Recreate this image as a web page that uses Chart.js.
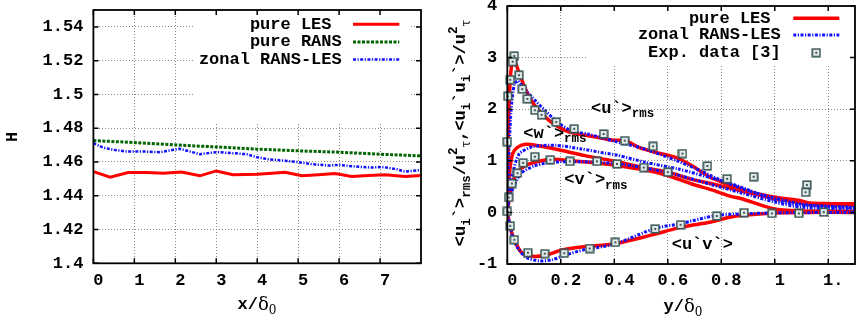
<!DOCTYPE html>
<html>
<head>
<meta charset="utf-8">
<script src="https://cdn.jsdelivr.net/npm/chart.js@4.4.0/dist/chart.umd.min.js"></script>
<style>
  html, body { margin: 0; padding: 0; background: #fff; }
  .panel { position: absolute; top: 0; }
</style>
</head>
<body>
<div class="panel" style="left:0"><canvas id="left" width="430" height="322"></canvas></div>
<div class="panel" style="left:430px"><canvas id="right" width="431" height="322"></canvas></div>
<script>
// ---- left panel: shape factor H vs x/delta0 ----
const hLesX = [0, 0.41, 0.85, 1.3, 1.71, 2.15, 2.6, 3.0, 3.41, 4.0, 4.36, 4.68, 5.09, 5.5, 5.9, 6.31, 6.71, 7.12, 7.61, 8.0];
const hLesY = [1.4543, 1.451, 1.4537, 1.4537, 1.4533, 1.454, 1.4518, 1.4547, 1.4524, 1.4528, 1.4533, 1.4539, 1.4518, 1.4524, 1.4532, 1.4514, 1.452, 1.4524, 1.4514, 1.452];
const hRansX = [0, 1, 2, 3, 4, 5, 6, 7, 8];
const hRansY = [1.4727, 1.4715, 1.4701, 1.4689, 1.4676, 1.4666, 1.4658, 1.4646, 1.4636];
const hZonalX = [0, 0.24, 0.49, 0.81, 1.22, 1.63, 1.95, 2.11, 2.36, 2.6, 2.85, 3.05, 3.41, 3.74, 4.0, 4.27, 4.68, 5.0, 5.34, 5.74, 6.0, 6.39, 6.8, 7.04, 7.37, 7.61, 8.0];
const hZonalY = [1.4711, 1.4685, 1.4672, 1.4662, 1.4662, 1.4658, 1.4672, 1.4678, 1.4662, 1.4646, 1.4654, 1.4658, 1.4652, 1.4646, 1.4628, 1.4616, 1.4607, 1.4599, 1.4587, 1.4579, 1.4583, 1.4573, 1.4567, 1.4571, 1.4559, 1.4543, 1.4553];
const hXTicks = [0, 1, 2, 3, 4, 5, 6, 7];
const hYTicks = [1.4, 1.42, 1.44, 1.46, 1.48, 1.5, 1.52, 1.54];
const hYLabels = ['1.4', '1.42', '1.44', '1.46', '1.48', '1.5', '1.52', '1.54'];

// ---- right panel: Reynolds stresses vs y/delta0 ----
const lesUX = [0, 0.004, 0.01, 0.018, 0.026, 0.044, 0.063, 0.087, 0.118, 0.155, 0.19, 0.235, 0.276, 0.33, 0.394, 0.443, 0.492, 0.553, 0.627, 0.689, 0.762, 0.811, 0.873, 0.909, 0.995, 1.094, 1.13, 1.2, 1.3];
const lesUY = [0, 1.5, 2.5, 2.9, 2.95, 2.71, 2.45, 2.19, 1.97, 1.79, 1.66, 1.55, 1.51, 1.46, 1.40, 1.39, 1.26, 1.165, 1.07, 0.91, 0.67, 0.57, 0.46, 0.39, 0.30, 0.23, 0.18, 0.17, 0.17];
const lesWX = [0, 0.004, 0.01, 0.02, 0.038, 0.069, 0.118, 0.204, 0.29, 0.394, 0.517, 0.603, 0.69, 0.762, 0.873, 0.995, 1.09, 1.13, 1.3];
const lesWY = [0, 0.5, 0.85, 1.14, 1.26, 1.32, 1.29, 1.20, 1.10, 1.00, 0.86, 0.78, 0.64, 0.56, 0.42, 0.27, 0.19, 0.15, 0.14];
const lesVX = [0, 0.007, 0.02, 0.038, 0.069, 0.118, 0.167, 0.24, 0.326, 0.394, 0.517, 0.603, 0.69, 0.762, 0.836, 0.873, 0.995, 1.09, 1.3];
const lesVY = [0, 0.24, 0.56, 0.78, 0.91, 0.99, 1.03, 1.0, 0.96, 0.92, 0.82, 0.71, 0.55, 0.44, 0.31, 0.27, 0.07, 0.03, 0.02];
const lesUVX = [0, 0.014, 0.032, 0.056, 0.093, 0.142, 0.204, 0.277, 0.363, 0.412, 0.5, 0.553, 0.64, 0.7, 0.762, 0.836, 0.873, 0.995, 1.1, 1.3];
const lesUVY = [0, -0.35, -0.60, -0.79, -0.85, -0.83, -0.73, -0.67, -0.63, -0.60, -0.49, -0.42, -0.30, -0.24, -0.185, -0.09, -0.06, -0.01, 0, 0];

const zonUX = [0, 0.005, 0.014, 0.026, 0.038, 0.056, 0.093, 0.142, 0.19, 0.24, 0.30, 0.4, 0.5, 0.6, 0.7, 0.8, 0.9, 1.0, 1.1, 1.2, 1.3];
const zonUY = [0, 1.0, 1.97, 2.48, 2.55, 2.45, 2.23, 1.97, 1.74, 1.58, 1.52, 1.38, 1.25, 1.07, 0.86, 0.62, 0.42, 0.28, 0.16, 0.11, 0.09];
const zonWX = [0, 0.005, 0.02, 0.044, 0.093, 0.18, 0.277, 0.363, 0.41, 0.517, 0.64, 0.762, 0.836, 0.909, 0.995, 1.09, 1.3];
const zonWY = [0, 0.35, 0.75, 1.13, 1.27, 1.30, 1.23, 1.15, 1.11, 0.97, 0.84, 0.67, 0.56, 0.42, 0.25, 0.15, 0.10];
const zonVX = [0, 0.005, 0.02, 0.05, 0.1, 0.15, 0.2, 0.3, 0.4, 0.517, 0.64, 0.762, 0.873, 1.0, 1.1, 1.3];
const zonVY = [0, 0.2, 0.45, 0.75, 0.90, 0.96, 0.98, 0.98, 0.95, 0.86, 0.72, 0.54, 0.38, 0.2, 0.1, 0.06];
const zonUVX = [0, 0.02, 0.04, 0.07, 0.118, 0.167, 0.215, 0.29, 0.36, 0.41, 0.553, 0.645, 0.78, 0.873, 1.0, 1.3];
const zonUVY = [0, -0.48, -0.70, -0.87, -0.94, -0.92, -0.83, -0.72, -0.66, -0.60, -0.31, -0.22, -0.06, -0.03, -0.01, 0];

const expX = [0.026, 0.020, 0.011, 0.002, 0.0, 0.044, 0.056, 0.075, 0.103, 0.128, 0.183, 0.250, 0.360, 0.439, 0.545, 0.655, 0.748, 0.822, 0.921, 1.120, 1.115,
              0.103, 0.161, 0.234, 0.335, 0.41, 0.51, 0.60, 0.059, 0.038, 0.017, 0.005, 0.0,
              0.011, 0.026, 0.077, 0.140, 0.213, 0.308, 0.404, 0.553, 0.648, 0.783, 0.885, 0.989, 1.090, 1.183];
const expY = [3.03, 2.92, 2.57, 2.25, 1.37, 2.66, 2.39, 2.20, 1.98, 1.89, 1.75, 1.62, 1.52, 1.39, 1.28, 1.14, 0.90, 0.65, 0.69, 0.53, 0.39,
              1.08, 1.02, 0.99, 0.99, 0.94, 0.87, 0.78, 0.96, 0.76, 0.56, 0.29, 0.02,
              -0.26, -0.53, -0.78, -0.80, -0.79, -0.70, -0.58, -0.32, -0.24, -0.07, -0.006, -0.02, -0.02, 0.006];
const rXTicks = [0, 0.2, 0.4, 0.6, 0.8, 1, 1.2];
const rXLabels = ['0', '0.2', '0.4', '0.6', '0.8', '1', '1.'];
const rYTicks = [-1, 0, 1, 2, 3, 4];

const MONO = '"Liberation Mono", "DejaVu Sans Mono", monospace';
const SERIF = '"DejaVu Serif", "Liberation Serif", serif';
const FONTS = {
  n: 'bold 17px ' + MONO,
  s: 'bold 12.5px ' + MONO,
  p: 'bold 12.5px ' + MONO,
  g: '18px ' + SERIF,
  gs: '12px ' + SERIF
};
const SHIFT = { n: 0, s: 6, p: -7, g: 0, gs: 6 };

function pts(xs, ys) {
  return xs.map((x, i) => ({ x: x, y: ys[i] }));
}

function squareMark() {
  const c = document.createElement('canvas');
  c.width = 10; c.height = 10;
  const g = c.getContext('2d');
  g.fillStyle = '#e4eaea';
  g.fillRect(1, 1, 8, 8);
  g.strokeStyle = '#3b5858';
  g.lineWidth = 1.6;
  g.strokeRect(1.2, 1.2, 7.6, 7.6);
  g.fillStyle = '#3b5858';
  g.fillRect(4, 4, 2, 2);
  return c;
}
const SQUARE = squareMark();

// text with sub/superscripts, segs = [[text, style], ...]
function drawRich(ctx, segs, x, y, align, angle) {
  ctx.save();
  ctx.translate(x, y);
  ctx.rotate(angle || 0);
  let w = 0;
  segs.forEach(s => { ctx.font = FONTS[s[1]]; w += ctx.measureText(s[0]).width; });
  let cx = align === 'center' ? -w / 2 : 0;
  ctx.textBaseline = 'middle';
  ctx.textAlign = 'left';
  ctx.fillStyle = '#000';
  segs.forEach(s => {
    ctx.font = FONTS[s[1]];
    ctx.fillText(s[0], cx, SHIFT[s[1]]);
    cx += ctx.measureText(s[0]).width;
  });
  ctx.restore();
}

// gnuplot look: opaque key, frame, inward ticks, titles, labels
const gnuPlugin = {
  id: 'gnu',
  beforeDatasetsDraw(chart, args, opts) {
    const ctx = chart.ctx, b = opts.box;
    ctx.save();
    ctx.fillStyle = '#fff';
    ctx.fillRect(b[0], b[1], b[2] - b[0], b[3] - b[1]);
    ctx.restore();
  },
  afterDatasetsDraw(chart, args, opts) {
    const ctx = chart.ctx, a = chart.chartArea;
    const xs = chart.scales.x, ys = chart.scales.y;
    ctx.save();
    ctx.strokeStyle = '#000';
    ctx.lineWidth = 1.5;
    ctx.beginPath();
    xs.ticks.forEach(t => {
      const px = xs.getPixelForValue(t.value);
      ctx.moveTo(px, a.bottom); ctx.lineTo(px, a.bottom - 5);
      ctx.moveTo(px, a.top); ctx.lineTo(px, a.top + 5);
    });
    ys.ticks.forEach(t => {
      const py = ys.getPixelForValue(t.value);
      ctx.moveTo(a.left, py); ctx.lineTo(a.left + 5, py);
      ctx.moveTo(a.right, py); ctx.lineTo(a.right - 5, py);
    });
    ctx.stroke();
    ctx.lineWidth = 1.8;
    ctx.strokeRect(a.left, a.top, a.right - a.left, a.bottom - a.top);

    // key
    const k = opts.key;
    ctx.font = FONTS.n;
    ctx.fillStyle = '#000';
    ctx.textAlign = 'right';
    ctx.textBaseline = 'middle';
    k.items.forEach((idx, i) => {
      const ds = chart.data.datasets[idx];
      const y = k.rows[i];
      ctx.fillText(ds.label, k.textRight, y);
      if (ds.showLine === false) {
        ctx.drawImage(SQUARE, (k.x0 + k.x1) / 2 - 5, y - 5);
      } else {
        ctx.save();
        ctx.strokeStyle = ds.borderColor;
        ctx.lineWidth = ds.borderWidth;
        ctx.setLineDash(ds.borderDash || []);
        ctx.beginPath();
        ctx.moveTo(k.x0, y); ctx.lineTo(k.x1, y);
        ctx.stroke();
        ctx.restore();
      }
    });

    (opts.texts || []).forEach(t => drawRich(ctx, t.segs, t.x, t.y, t.align, t.angle));
    ctx.restore();
  }
};

function axis(min, max, tickVals, tickText, size, isX) {
  return {
    type: 'linear', min: min, max: max,
    afterBuildTicks: s => { s.ticks = tickVals.map(v => ({ value: v })); },
    afterFit: s => {
      if (isX) s.height = size; else s.width = size;
      s.paddingTop = 0; s.paddingBottom = 0; s.paddingLeft = 0; s.paddingRight = 0;
    },
    ticks: {
      autoSkip: false, maxRotation: 0, color: '#000',
      font: { family: MONO, size: 17, weight: 'bold' },
      padding: isX ? 7 : 10,
      labelOffset: isX ? 5 : 0,
      callback: (v) => { const i = tickVals.indexOf(v); return tickText ? tickText[i] : String(v); }
    },
    grid: { color: '#8a8a8a', lineWidth: 1, drawTicks: false },
    border: { display: false, dash: [1, 2] }
  };
}

new Chart(document.getElementById('left'), {
  type: 'scatter',
  data: {
    datasets: [
      { label: 'pure LES ', data: pts(hLesX, hLesY), showLine: true, borderColor: '#ff0000', borderWidth: 3, pointRadius: 0 },
      { label: 'pure RANS', data: pts(hRansX, hRansY), showLine: true, borderColor: '#006400', borderWidth: 3, borderDash: [3, 1.5], pointRadius: 0 },
      { label: 'zonal RANS-LES', data: pts(hZonalX, hZonalY), showLine: true, borderColor: '#1010ff', borderWidth: 2.5, borderDash: [3, 1.5, 1.2, 1.5], pointRadius: 0 }
    ]
  },
  options: {
    responsive: false, animation: false,
    layout: { padding: { top: 10, right: 9, left: 0, bottom: 0 } },
    plugins: {
      legend: { display: false }, tooltip: { enabled: false },
      gnu: {
        box: [193, 10, 410, 122],
        key: { items: [0, 1, 2], rows: [24.3, 42, 59.5], textRight: 341.7, x0: 353, x1: 399.3 },
        texts: [
          { segs: [['H', 'n']], x: 12.3, y: 137, align: 'center', angle: -Math.PI / 2 },
          { segs: [['x/', 'n'], ['δ', 'g'], ['0', 'gs']], x: 257, y: 305, align: 'center' }
        ]
      }
    },
    scales: {
      x: axis(0, 8, hXTicks, null, 58.7, true),
      y: axis(1.4, 1.55, hYTicks, hYLabels, 93.4, false)
    }
  },
  plugins: [gnuPlugin]
});

const lesStyle = { showLine: true, borderColor: '#ff0000', borderWidth: 3.5, pointRadius: 0, tension: 0.25, order: 2 };
const zonStyle = { showLine: true, borderColor: '#1010ff', borderWidth: 3, borderDash: [3, 1.5, 1.2, 1.5], pointRadius: 0, tension: 0.25, order: 1 };

new Chart(document.getElementById('right'), {
  type: 'scatter',
  data: {
    datasets: [
      Object.assign({ label: 'pure LES ', data: pts(lesUX, lesUY) }, lesStyle),
      Object.assign({ label: 'pure LES ', data: pts(lesWX, lesWY) }, lesStyle),
      Object.assign({ label: 'pure LES ', data: pts(lesVX, lesVY) }, lesStyle),
      Object.assign({ label: 'pure LES ', data: pts(lesUVX, lesUVY) }, lesStyle),
      Object.assign({ label: 'zonal RANS-LES', data: pts(zonUX, zonUY) }, zonStyle),
      Object.assign({ label: 'zonal RANS-LES', data: pts(zonWX, zonWY) }, zonStyle),
      Object.assign({ label: 'zonal RANS-LES', data: pts(zonVX, zonVY) }, zonStyle),
      Object.assign({ label: 'zonal RANS-LES', data: pts(zonUVX, zonUVY) }, zonStyle),
      { label: 'Exp. data [3]', data: pts(expX, expY), showLine: false, pointStyle: SQUARE, pointRadius: 5, clip: 8, order: 0 }
    ]
  },
  options: {
    responsive: false, animation: false,
    layout: { padding: { top: 4.7, right: 1, left: 0, bottom: 0 } },
    plugins: {
      legend: { display: false }, tooltip: { enabled: false },
      gnu: {
        box: [157, 4.7, 420, 65],
        key: { items: [0, 4, 8], rows: [18.3, 35, 52.7], textRight: 350.7, x0: 363.3, x1: 409.3 },
        texts: [
          { segs: [['<u', 'n'], ['i', 's'], ['`>', 'n'], ['rms', 's'], ['/u', 'n'], ['2', 'p'], ['τ', 'gs'], [',<u', 'n'], ['i', 's'], ['`u', 'n'], ['i', 's'], ['`>/u', 'n'], ['2', 'p'], ['τ', 'gs']],
            x: 31, y: 133, align: 'center', angle: -Math.PI / 2 },
          { segs: [['y/', 'n'], ['δ', 'g'], ['0', 'gs']], x: 253, y: 307, align: 'center' },
          { segs: [['<u`>', 'n'], ['rms', 's']], x: 161, y: 108.3 },
          { segs: [['<w`>', 'n'], ['rms', 's']], x: 93.3, y: 133.3 },
          { segs: [['<v`>', 'n'], ['rms', 's']], x: 134.3, y: 180 },
          { segs: [['<u`v`>', 'n']], x: 241.7, y: 245 }
        ]
      }
    },
    scales: {
      x: axis(0, 1.3, rXTicks, rXLabels, 58, true),
      y: axis(-1, 4, rYTicks, null, 77.3, false)
    }
  },
  plugins: [gnuPlugin]
});
</script>
</body>
</html>
